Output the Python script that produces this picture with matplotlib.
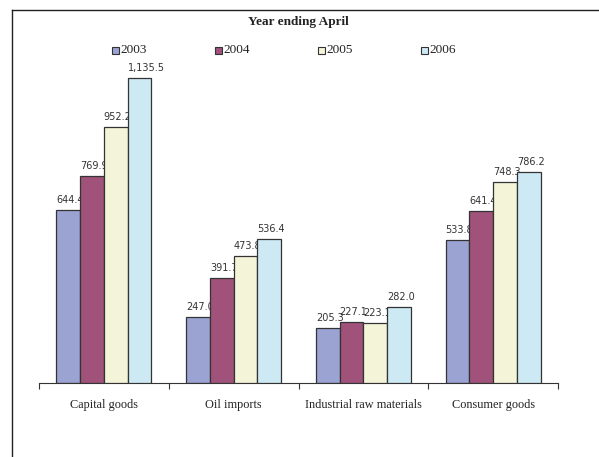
import numpy as np
import matplotlib.pyplot as plt
from matplotlib.lines import Line2D
from matplotlib.transforms import offset_copy

categories = ["Capital goods", "Oil imports", "Industrial raw materials", "Consumer goods"]
years = ["2003", "2004", "2005", "2006"]
v2003 = [644.4, 247.0, 205.3, 533.8]
v2004 = [769.9, 391.7, 227.1, 641.4]
v2005 = [952.2, 473.8, 223.1, 748.3]
v2006 = [1135.5, 536.4, 282.0, 786.2]
series = [v2003, v2004, v2005, v2006]
colors = ["#9BA3D3", "#A0527A", "#F4F4D8", "#CDE9F4"]

W, H = 599, 457
fig = plt.figure(figsize=(W / 100, H / 100), dpi=100)
ax = fig.add_axes([39 / W, 1 - 383 / H, (558 - 39) / W, (383 - 60) / H])

# outer frame (top and left only)
fig.add_artist(Line2D([12 / W, 1], [1 - 10 / H, 1 - 10 / H], transform=fig.transFigure, color="#222222", lw=1))
fig.add_artist(Line2D([12 / W, 12 / W], [0, 1 - 10 / H], transform=fig.transFigure, color="#222222", lw=1))

x = np.arange(len(categories))
bw = 0.1835
for i, vals in enumerate(series):
    pos = x - 1.5 * bw + i * bw
    ax.bar(pos, vals, width=bw, color=colors[i], edgecolor="#333333", linewidth=0.9, zorder=2 + 2 * i)
    for p, v in zip(pos, vals):
        ax.text(p - bw / 2, v + 18, f"{v:,.1f}", ha="left", va="bottom", fontsize=7,
                color="#333333", family="DejaVu Sans", zorder=3 + 2 * i)

ax.set_xlim(-0.5, len(categories) - 0.5)
ax.set_ylim(0, 1202.5)
ax.set_yticks([])
ax.set_xticks(np.arange(len(categories) + 1) - 0.5)
ax.set_xticklabels([])
ax.tick_params(axis="x", length=4, width=0.8, color="#333333", direction="out")
for s in ["top", "right", "left"]:
    ax.spines[s].set_visible(False)
ax.spines["bottom"].set_color("#333333")
ax.spines["bottom"].set_linewidth(0.8)
ax.patch.set_alpha(0)

lab_tr = offset_copy(ax.get_xaxis_transform(), fig=fig, y=-22 * 0.72, units="points")
for i, c in enumerate(categories):
    ax.text(x[i], 0, c, ha="center", va="center", fontsize=8.8, family="Liberation Serif",
            color="#222222", transform=lab_tr)

fig.text(298 / W, 1 - 22 / H, "Year ending April", ha="center", va="center", fontsize=9.5,
         family="Liberation Serif", weight="bold", color="#222222")

# legend row
for i, yr in enumerate(years):
    lx = (115 + 103 * i) / W
    ly = 1 - 50 / H
    fig.add_artist(plt.Rectangle((lx - 3.5 / W, ly - 3.5 / H), 7 / W, 7 / H, transform=fig.transFigure,
                                 facecolor=colors[i], edgecolor="#333333", lw=0.8))
    fig.text(lx + 5 / W, ly, yr, ha="left", va="center", fontsize=9.5, family="Liberation Serif", color="#222222")

fig.savefig("out.png", dpi=100)
